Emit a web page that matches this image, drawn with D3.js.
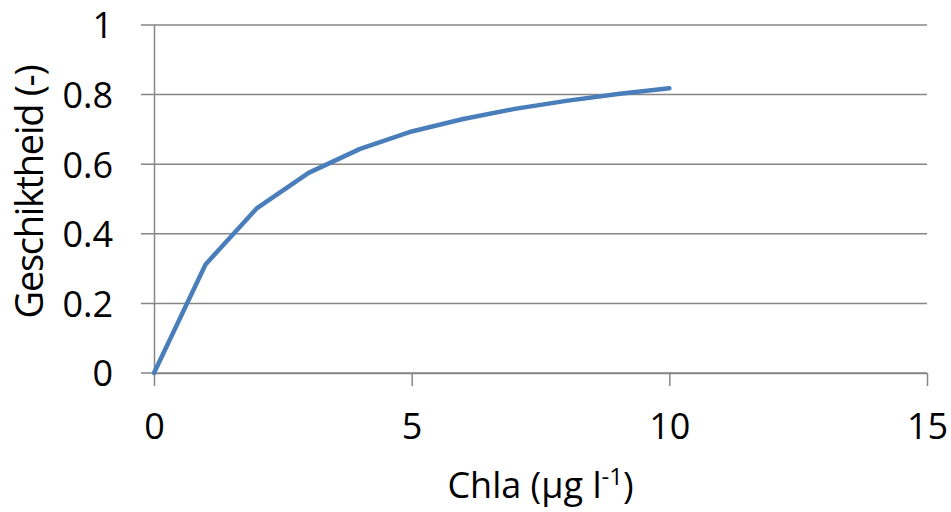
<!DOCTYPE html>
<html>
<head>
<meta charset="utf-8">
<script src="https://cdn.jsdelivr.net/npm/d3@7"></script>
<style>
  body { margin: 0; background: #fff; }
  text { font-family: "Open Sans", sans-serif; fill: #000; }
</style>
</head>
<body>
<div id="chart-area"></div>
<script>
// values
const chla = [0, 1, 2, 3, 4, 5, 6, 7, 8, 9, 10]
const geschiktheid = [0, 0.312, 0.474, 0.575, 0.644, 0.694, 0.73, 0.759, 0.782, 0.802, 0.818]
const xTicks = [0, 5, 10, 15]
const yTicks = [0, 0.2, 0.4, 0.6, 0.8, 1]

const W = 951, H = 512
const MARGIN = { LEFT: 154, RIGHT: 24, TOP: 25, BOTTOM: 139 }
const WIDTH = W - MARGIN.LEFT - MARGIN.RIGHT
const HEIGHT = H - MARGIN.TOP - MARGIN.BOTTOM
const GRID = "#868686"

const svg = d3.select("#chart-area").append("svg")
  .attr("width", W)
  .attr("height", H)

const g = svg.append("g")
  .attr("transform", `translate(${MARGIN.LEFT}, ${MARGIN.TOP})`)

const x = d3.scaleLinear().domain([0, 15]).range([0, WIDTH])
const y = d3.scaleLinear().domain([0, 1]).range([HEIGHT, 0])

// horizontal gridlines (with outside tick stubs)
g.append("g")
  .selectAll("line")
  .data(yTicks)
  .join("line")
    .attr("x1", -13)
    .attr("x2", WIDTH)
    .attr("y1", d => y(d))
    .attr("y2", d => y(d))
    .attr("stroke", GRID)
    .attr("stroke-width", 1.5)

// y axis
const yAxis = g.append("g")
  .call(d3.axisLeft(y).tickValues(yTicks).tickSize(0).tickPadding(41).tickFormat(d => d))
yAxis.select(".domain").attr("stroke", GRID).attr("stroke-width", 1.5)
yAxis.selectAll("text")
  .attr("font-size", "36px")
  .attr("font-family", "Open Sans, sans-serif")
  .attr("dy", "0.36em")

// x axis
const xAxis = g.append("g")
  .attr("transform", `translate(0, ${HEIGHT})`)
  .call(d3.axisBottom(x).tickValues(xTicks).tickSize(13).tickPadding(27).tickSizeOuter(0))
xAxis.select(".domain").attr("stroke", GRID).attr("stroke-width", 1.5)
xAxis.selectAll(".tick line").attr("stroke", GRID).attr("stroke-width", 1.5)
xAxis.selectAll("text")
  .attr("font-size", "36px")
  .attr("font-family", "Open Sans, sans-serif")

// line
const line = d3.line()
  .x((d, i) => x(chla[i]))
  .y(d => y(d))

g.append("path")
  .datum(geschiktheid)
  .attr("fill", "none")
  .attr("stroke", "#4a7ebb")
  .attr("stroke-width", 4.5)
  .attr("stroke-linecap", "round")
  .attr("stroke-linejoin", "round")
  .attr("d", line)

// Y label
svg.append("text")
  .attr("transform", `translate(43, 192) rotate(-90)`)
  .attr("text-anchor", "middle")
  .attr("font-size", "38px")
  .attr("letter-spacing", "-1.3px")
  .text("Geschiktheid (-)")

// X label
const xl = svg.append("text")
  .attr("x", MARGIN.LEFT + WIDTH / 2)
  .attr("y", 498)
  .attr("text-anchor", "middle")
  .attr("font-size", "36px")
xl.append("tspan").text("Chla (µg l")
xl.append("tspan").attr("font-size", "24px").attr("dy", "-13").text("-1")
xl.append("tspan").attr("dy", "13").text(")")
</script>
</body>
</html>
